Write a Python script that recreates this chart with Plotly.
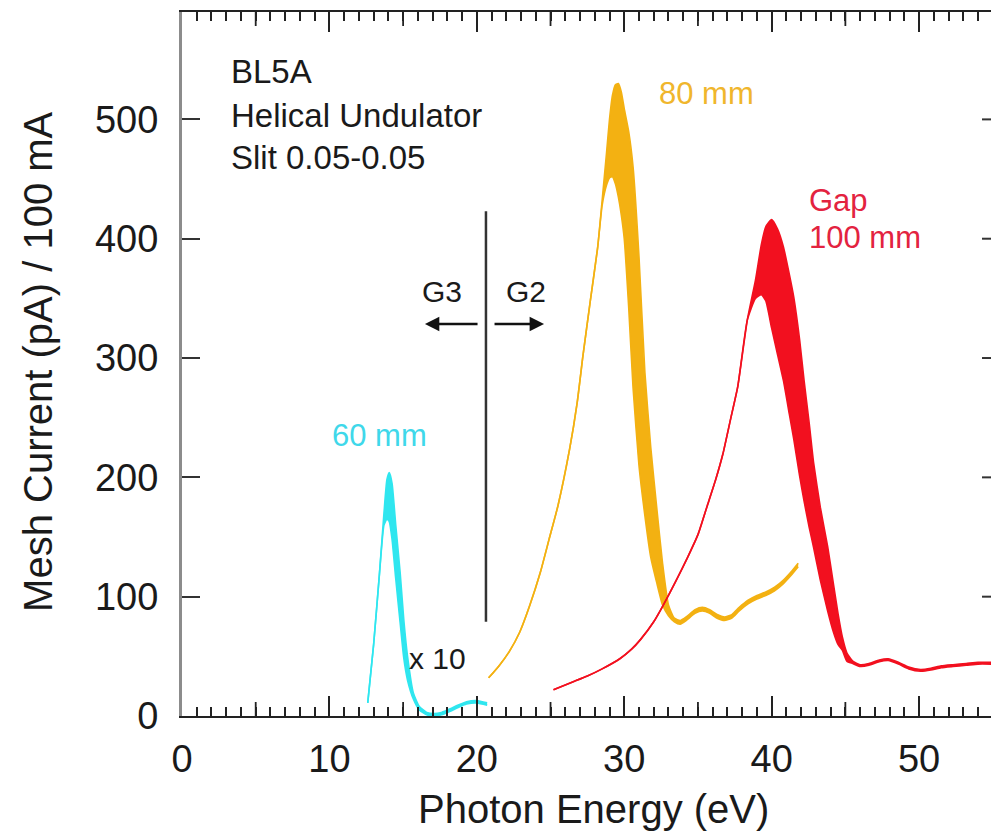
import plotly.graph_objects as go

# Photon energy grids (eV) and mesh-current envelopes (pA / 100 mA)
gap60_energy = [12.6, 13.0, 13.4, 13.7, 13.9, 14.06, 14.25, 14.5, 14.8, 15.05, 15.3,
                15.7, 16.1, 16.6, 17.1, 17.6, 18.2, 18.7, 19.3, 20.0, 20.7]
gap60_upper = [11, 60, 120, 170, 198, 204, 195, 160, 120, 80, 50,
               19, 8, 3, 2, 3, 6, 9, 12, 13, 11]
gap60_lower = [11, 60, 120, 160, 165, 163, 148, 115, 78, 48, 30,
               14, 5, 1, 0, 1, 4, 7, 10, 11, 9]

gap80_energy = [20.8, 21.5, 22.2, 22.9, 23.6, 24.3, 24.9, 25.5, 26.3, 26.8, 27.2, 27.7,
                28.2, 28.5, 28.8, 29.0, 29.2, 29.4, 29.6, 29.8, 30.0, 30.3, 30.6, 31.0,
                31.4, 31.8, 32.2, 32.6, 33.0, 33.4, 33.8, 34.2, 34.8, 35.3, 35.8, 36.3,
                36.8, 37.3, 37.8, 38.4, 39.0, 39.6, 40.2, 40.8, 41.4, 41.8]
gap80_upper = [32, 42, 54, 70, 93, 120, 148, 176, 224, 262, 302, 348,
               393, 432, 472, 500, 520, 529, 530, 523, 509, 490, 460, 385,
               288, 225, 175, 128, 93, 82, 80, 83, 89, 91, 89, 85,
               83, 85, 91, 97, 101, 104, 108, 114, 122, 128]
gap80_lower = [32, 42, 54, 70, 93, 120, 148, 176, 224, 262, 302, 348,
               393, 428, 445, 451, 452, 446, 435, 420, 400, 343, 275, 210,
               168, 133, 112, 93, 84, 79, 77, 80, 86, 88, 86, 82,
               80, 82, 88, 94, 98, 101, 105, 111, 119, 125]

gap100_energy = [25.2, 26.5, 27.5, 28.5, 29.7, 30.5, 31.1, 32.0, 32.65, 33.5, 34.3, 35.0,
                 35.6, 36.2, 36.7, 37.2, 37.7, 38.35, 38.9, 39.3, 39.6, 40.0, 40.4, 40.8,
                 41.2, 41.5, 41.9, 42.2, 42.55, 42.85, 43.3, 43.8, 44.2, 44.5, 44.8, 45.1,
                 45.5, 46.0, 46.6, 47.3, 47.9, 48.6, 49.3, 50.1, 50.8, 51.5, 52.3, 53.2,
                 54.0, 54.88]
gap100_upper = [22, 28.5, 33.5, 39.5, 48, 56, 64, 79, 93, 113, 133, 152,
                175, 198, 220, 248, 276, 332, 365, 395, 410, 416, 408, 393,
                370, 351, 315, 281, 245, 212, 175, 142, 110, 86, 66, 53,
                46, 43, 44, 47, 48, 45, 41, 39, 40, 42, 43, 44,
                45, 45]
gap100_lower = [22, 28.5, 33.5, 39.5, 48, 56, 64, 79, 93, 113, 133, 152,
                175, 198, 220, 248, 276, 332, 350, 353, 348, 325, 303, 281,
                253, 232, 201, 180, 158, 141, 114, 88, 70, 60, 55, 46,
                44, 41.5, 42.5, 45.5, 46.5, 43.5, 39.5, 37.5, 38.5, 40.5, 41.5, 42.5,
                43.5, 43.5]

y_ticks = [0, 100, 200, 300, 400, 500]
x_ticks = [0, 10, 20, 30, 40, 50]
x_half_ticks = [5, 15, 25, 35, 45]

CYAN = "#2fe6ef"
ORANGE = "#f3b112"
RED = "#f2101f"
FONT = "Liberation Sans, Arial, Helvetica, sans-serif"

X_MAX = 54.88
Y_MAX = 590
PLOT_H = 704  # plot-area height in px

fig = go.Figure()


def add_band(x, lower, upper, color, name):
    fig.add_trace(go.Scatter(
        x=x, y=lower, mode="lines", name=name + " (min)",
        line=dict(color=color, width=1.6, shape="spline", smoothing=0.5),
        showlegend=False, hoverinfo="skip"))
    fig.add_trace(go.Scatter(
        x=x, y=upper, mode="lines", name=name,
        line=dict(color=color, width=1.6, shape="spline", smoothing=0.5),
        fill="tonexty", fillcolor=color, showlegend=False))


add_band(gap60_energy, gap60_lower, gap60_upper, CYAN, "60 mm")
add_band(gap80_energy, gap80_lower, gap80_upper, ORANGE, "80 mm")
add_band(gap100_energy, gap100_lower, gap100_upper, RED, "100 mm")

# grating boundary G3 | G2
fig.add_shape(type="line", x0=20.62, x1=20.62, y0=79, y1=423,
              line=dict(color="#333333", width=2.5), xref="x", yref="y")

# short ticks on the right-hand frame
for v in y_ticks[1:]:
    fig.add_shape(type="line", xref="paper", yref="y", x0=0.9889, x1=1.0, y0=v, y1=v,
                  line=dict(color="#333333", width=2))

# mid-length ticks at the half decades, bottom and top frame
half_len = 14 / PLOT_H
for v in x_half_ticks:
    fig.add_shape(type="line", xref="x", yref="paper", x0=v, x1=v, y0=0, y1=half_len,
                  line=dict(color="#222222", width=1.8))
    fig.add_shape(type="line", xref="x", yref="paper", x0=v, x1=v, y0=1 - half_len, y1=1,
                  line=dict(color="#222222", width=1.8))

black_txt = dict(family=FONT, size=33, color="#1a1a1a")
annotations = [
    dict(x=3.2, y=540, text="BL5A", xanchor="left", yanchor="middle", font=black_txt),
    dict(x=3.2, y=503.5, text="Helical Undulator", xanchor="left", yanchor="middle", font=black_txt),
    dict(x=3.2, y=468, text="Slit 0.05-0.05", xanchor="left", yanchor="middle", font=black_txt),
    dict(x=32.22, y=522, text="80 mm", xanchor="left", yanchor="middle",
         font=dict(family=FONT, size=31, color="#f0b62c")),
    dict(x=42.4, y=432, text="Gap", xanchor="left", yanchor="middle",
         font=dict(family=FONT, size=31, color="#e3233f")),
    dict(x=42.4, y=401, text="100 mm", xanchor="left", yanchor="middle",
         font=dict(family=FONT, size=31, color="#e3233f")),
    dict(x=13.43, y=235, text="60 mm", xanchor="center", yanchor="middle",
         font=dict(family=FONT, size=31, color="#3fd8ea")),
    dict(x=17.64, y=356, text="G3", xanchor="center", yanchor="middle",
         font=dict(family=FONT, size=30, color="#1a1a1a")),
    dict(x=23.34, y=356, text="G2", xanchor="center", yanchor="middle",
         font=dict(family=FONT, size=30, color="#1a1a1a")),
    dict(x=17.3, y=48, text="x 10", xanchor="center", yanchor="middle",
         font=dict(family=FONT, size=30, color="#1a1a1a")),
    # arrows pointing away from the boundary
    dict(x=16.48, y=328.5, ax=20.15, ay=328.5, axref="x", ayref="y", text="",
         showarrow=True, arrowhead=2, arrowsize=1.2, arrowwidth=2.4, arrowcolor="#111111"),
    dict(x=24.56, y=328.5, ax=21.10, ay=328.5, axref="x", ayref="y", text="",
         showarrow=True, arrowhead=2, arrowsize=1.2, arrowwidth=2.4, arrowcolor="#111111"),
    # axis titles
    dict(x=0.509, y=-0.132, xref="paper", yref="paper", text="Photon Energy (eV)",
         xanchor="center", yanchor="middle", font=dict(family=FONT, size=40, color="#1a1a1a")),
    dict(x=-0.178, y=0.503, xref="paper", yref="paper", text="Mesh Current (pA) / 100 mA",
         textangle=-90, xanchor="center", yanchor="middle",
         font=dict(family=FONT, size=40, color="#1a1a1a")),
]
for a in annotations:
    a.setdefault("showarrow", False)
    fig.add_annotation(**a)

fig.update_layout(
    width=991, height=840,
    margin=dict(l=182, r=0, t=12, b=124),
    paper_bgcolor="white", plot_bgcolor="white",
    showlegend=False,
    xaxis=dict(
        range=[0, X_MAX], tickvals=x_ticks, ticks="inside", ticklen=20, tickwidth=2,
        tickcolor="#222222", showline=True, linecolor="#222222", linewidth=2,
        mirror="ticks", showgrid=False, zeroline=False,
        tickfont=dict(family=FONT, size=38, color="#1a1a1a"), ticklabelstandoff=8,
        minor=dict(dtick=1, tick0=0, ticks="inside", ticklen=9, tickwidth=1.5,
                   tickcolor="#222222", showgrid=False),
    ),
    yaxis=dict(
        range=[0, Y_MAX], tickvals=y_ticks, ticks="inside", ticklen=18, tickwidth=2,
        tickcolor="#333333", showline=True, linecolor="#8c8c8c", linewidth=3,
        showgrid=False, zeroline=False,
        tickfont=dict(family=FONT, size=38, color="#1a1a1a"), ticklabelstandoff=13,
    ),
)

fig.write_html("out.html")
